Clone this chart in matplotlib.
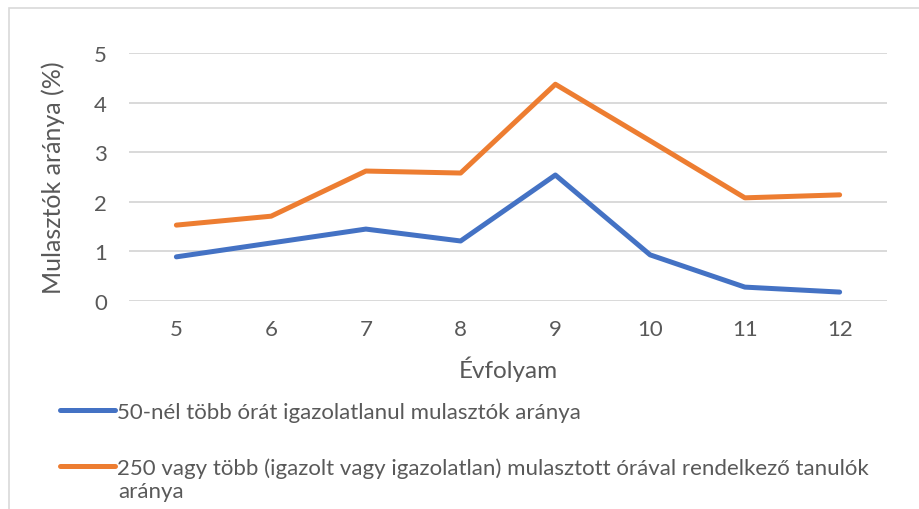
import matplotlib.pyplot as plt
from matplotlib.patches import Rectangle

plt.rcParams['font.family'] = ['Lato', 'DejaVu Sans']

grades = ['5', '6', '7', '8', '9', '10', '11', '12']
unexcused_50 = [0.89, 1.17, 1.45, 1.21, 2.54, 0.93, 0.28, 0.18]
total_250 = [1.53, 1.71, 2.62, 2.58, 4.37, 3.23, 2.08, 2.14]

label_blue = '50-nél több órát igazolatlanul mulasztók aránya'
label_orange = '250 vagy több (igazolt vagy igazolatlan) mulasztott órával rendelkező tanulók'
label_orange_cont = 'aránya'

text_col = '#595959'
grid_col = '#d9d9d9'

fig = plt.figure(figsize=(9.2, 5.1), dpi=100)
# light chart-area border (left and top edges visible)
fig.patches.append(Rectangle((9 / 920, -0.1), 1.2, 1.1 - 9 / 510,
                             transform=fig.transFigure, fill=False,
                             edgecolor=grid_col, linewidth=1.2))
ax = fig.add_axes([129 / 920, 1 - 302 / 510, 758 / 920, 248 / 510])

x = range(len(grades))
ax.plot(x, unexcused_50, color='#4472C4', linewidth=3.6, label=label_blue,
        solid_capstyle='round', solid_joinstyle='round')
ax.plot(x, total_250, color='#ED7D31', linewidth=3.6, label=label_orange,
        solid_capstyle='round', solid_joinstyle='round')

ax.set_xlim(-0.5, len(grades) - 0.5)
ax.set_ylim(0, 5)
ax.set_xticks(list(x))
ax.set_xticklabels(grades)
ax.set_yticks(range(6))
ax.grid(axis='y', color=grid_col, linewidth=1.4)
ax.set_axisbelow(True)
for s in ax.spines.values():
    s.set_visible(False)
ax.tick_params(length=0, labelsize=16, colors=text_col)
ax.tick_params(axis='x', pad=13)
ax.tick_params(axis='y', pad=16)
ax.set_xlabel('Évfolyam', fontsize=17.5, color=text_col)
ax.set_ylabel('Mulasztók aránya (%)', fontsize=18, color=text_col)
ax.xaxis.set_label_coords(0.5, -0.22)
ax.yaxis.set_label_coords(-0.0844, 0.5)

leg = fig.legend(loc='upper left', bbox_to_anchor=(60 / 920, 1 - 403 / 510),
                 frameon=False, fontsize=16, handlelength=2.48, handletextpad=0.1,
                 labelspacing=1.58, borderaxespad=0, borderpad=0)
for t in leg.get_texts():
    t.set_color(text_col)
fig.text(118 / 920, 1 - 492 / 510, label_orange_cont, fontsize=16, color=text_col,
         va='center', ha='left')

fig.savefig('out.png', dpi=100)
